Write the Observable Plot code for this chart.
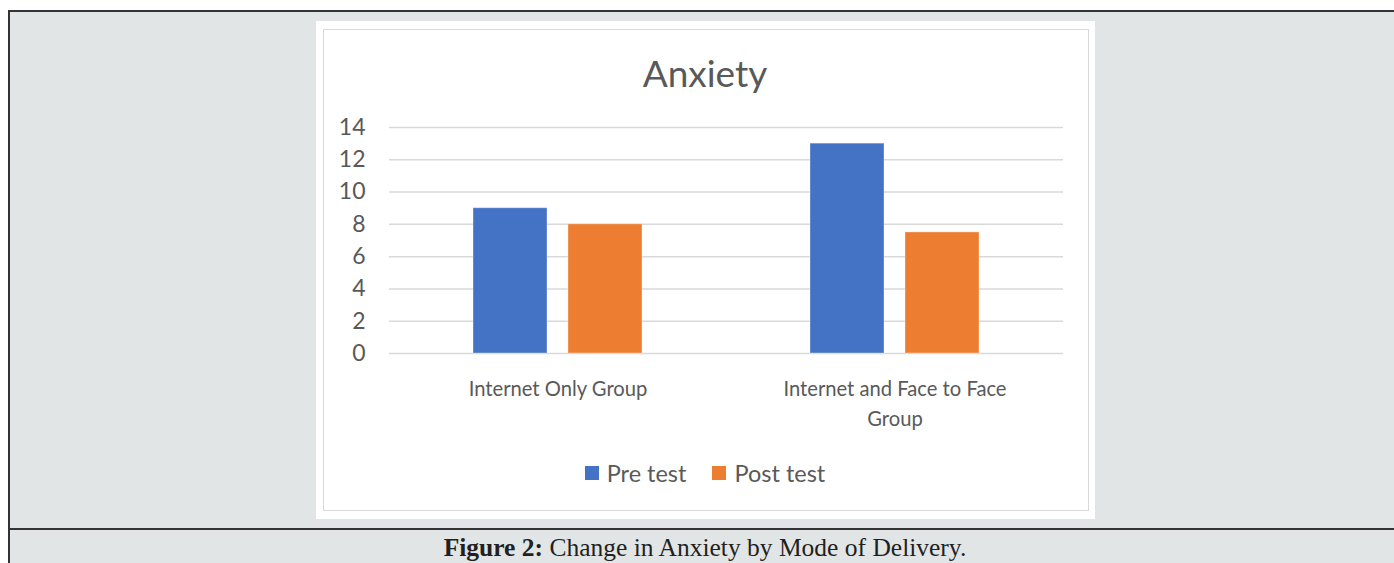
<!DOCTYPE html>
<html>
<head>
<meta charset="utf-8">
<script src="https://cdn.jsdelivr.net/npm/d3@7"></script>
<script src="https://cdn.jsdelivr.net/npm/@observablehq/plot@0.6"></script>
<style>
  html, body { margin: 0; padding: 0; background: #ffffff; width: 1394px; height: 563px; overflow: hidden; position: relative; }
  .outer { position: absolute; left: 8px; top: 10px; width: 1400px; height: 560px; background: #e1e5e6; border-top: 2px solid #333; border-left: 2px solid #333; box-sizing: border-box; }
  .sep { position: absolute; left: 8px; top: 528px; width: 1400px; height: 0; border-top: 2px solid #333; }
  .caption { position: absolute; left: 355px; width: 700px; top: 534px; text-align: center; font-family: "Liberation Serif", serif; font-size: 25.5px; color: #231f20; line-height: 28px; white-space: nowrap; }
  .panel { position: absolute; left: 316px; top: 21px; width: 779px; height: 498px; background: #fff; }
  .inner { position: absolute; left: 323px; top: 29px; width: 766px; height: 482px; border: 1px solid #d9d9d9; box-sizing: border-box; }
  #chart { position: absolute; left: 316px; top: 21px; }
  .title { position: absolute; left: 505px; width: 400px; top: 51px; text-align: center; font-family: Lato, sans-serif; font-size: 37px; line-height: 44px; color: #595959; }
  .legend { position: absolute; left: 405px; width: 600px; top: 459px; display: flex; justify-content: center; align-items: center; font-family: Lato, sans-serif; font-size: 23.5px; color: #595959; line-height: 28px; }
  .legend .item { display: flex; align-items: center; margin: 0 13px; }
  .legend .sw { width: 14px; height: 14px; margin-right: 8px; }
</style>
</head>
<body>
<div class="outer"></div>
<div class="sep"></div>
<div class="caption"><b>Figure 2:</b> Change in Anxiety by Mode of Delivery.</div>
<div class="panel"></div>
<div class="inner"></div>
<div class="title">Anxiety</div>
<div id="chart"></div>
<div class="legend" id="legend"></div>
<script>
const groups = ["Internet Only Group", "Internet and Face to Face Group"];
const groupLabels = ["Internet Only Group", "Internet and Face to Face\nGroup"];
const series = ["Pre test", "Post test"];
const seriesColors = ["#4472c4", "#ed7d31"];
const preTest = [9, 13];
const postTest = [8, 7.5];
const yTicks = [0, 2, 4, 6, 8, 10, 12, 14];

const rows = [];
groups.forEach((g, i) => {
  rows.push({group: g, series: series[0], value: preTest[i]});
  rows.push({group: g, series: series[1], value: postTest[i]});
});
const labelRows = groups.map((g, i) => ({group: g, label: groupLabels[i]}));

const chart = Plot.plot({
  width: 779,
  height: 498,
  marginLeft: 73,
  marginRight: 32,
  marginTop: 106,
  marginBottom: 166,
  style: {background: "transparent", fontFamily: "Lato, sans-serif", color: "#595959"},
  fx: {domain: groups, padding: 0, axis: null},
  x: {domain: series, paddingInner: 0.21875, paddingOuter: 0.8646, axis: null},
  y: {domain: [0, 14], axis: null},
  color: {domain: series, range: seriesColors},
  marks: [
    Plot.gridY(yTicks, {stroke: "#d9d9d9", strokeOpacity: 1, strokeWidth: 1.5}),
    Plot.axisY(yTicks, {tickSize: 0, tickPadding: 24, fontSize: 23, fill: "#595959", label: null}),
    Plot.barY(rows, {fx: "group", x: "series", y: "value", fill: "series", stroke: "#ffffff", strokeOpacity: 0.35, strokeWidth: 1}),
    Plot.text(labelRows, {fx: "group", text: "label", frameAnchor: "bottom", lineAnchor: "top", dy: 21, lineHeight: 1.5, fontSize: 20.2, fill: "#595959"})
  ]
});
chart.style.overflow = "visible";
document.getElementById("chart").appendChild(chart);

const legend = document.getElementById("legend");
series.forEach((s, i) => {
  const item = document.createElement("div");
  item.className = "item";
  const sw = document.createElement("span");
  sw.className = "sw";
  sw.style.background = seriesColors[i];
  const t = document.createElement("span");
  t.textContent = s;
  item.appendChild(sw);
  item.appendChild(t);
  legend.appendChild(item);
});
</script>
</body>
</html>
